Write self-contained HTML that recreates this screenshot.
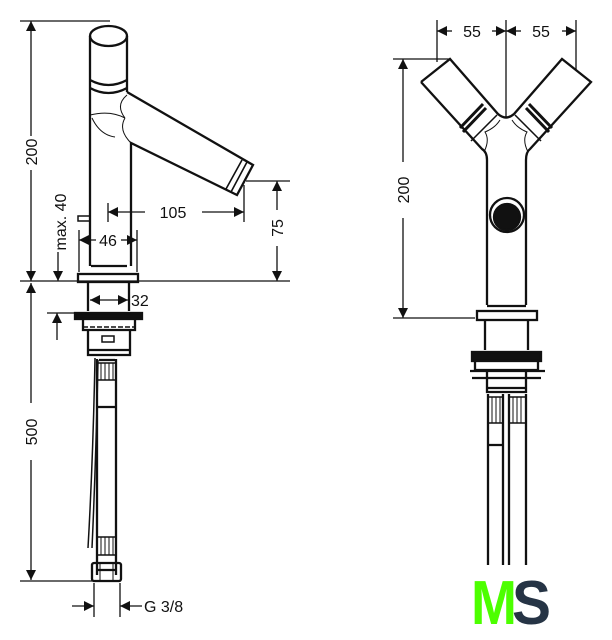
<!DOCTYPE html>
<html><head><meta charset="utf-8"><style>
html,body{margin:0;padding:0;background:#fff;}
svg{display:block;}
text{font-family:"Liberation Sans",sans-serif;font-size:16px;fill:#111;}
</style></head><body>
<svg width="612" height="640" viewBox="0 0 612 640" xmlns="http://www.w3.org/2000/svg">
<defs>
<marker id="a" viewBox="0 0 10 10" refX="10" refY="5" markerWidth="11" markerHeight="10" markerUnits="userSpaceOnUse" orient="auto-start-reverse"><path d="M0,0L10,5L0,10z" fill="#111"/></marker>
</defs>
<g stroke="#111" fill="none" stroke-width="1.3">
<line x1="20" y1="21" x2="110" y2="21"/>
<line x1="20" y1="281" x2="290" y2="281"/>
<line x1="31" y1="21" x2="31" y2="136" marker-start="url(#a)"/>
<line x1="31" y1="170" x2="31" y2="281" marker-end="url(#a)"/>
<line x1="246" y1="181" x2="290" y2="181"/>
<line x1="277" y1="181" x2="277" y2="210" marker-start="url(#a)"/>
<line x1="277" y1="246" x2="277" y2="281" marker-end="url(#a)"/>
<line x1="108" y1="203" x2="108" y2="222"/>
<line x1="244" y1="185" x2="244" y2="222"/>
<line x1="108" y1="212" x2="145" y2="212" marker-start="url(#a)"/>
<line x1="202" y1="212" x2="244" y2="212" marker-end="url(#a)"/>
<line x1="58" y1="252" x2="58" y2="281" marker-end="url(#a)"/>
<line x1="79" y1="230" x2="79" y2="272"/>
<line x1="137" y1="230" x2="137" y2="272"/>
<line x1="79" y1="240" x2="96" y2="240" marker-start="url(#a)"/>
<line x1="121" y1="240" x2="137" y2="240" marker-end="url(#a)"/>
<line x1="90" y1="300" x2="128" y2="300" marker-start="url(#a)" marker-end="url(#a)"/>
<line x1="47" y1="313" x2="75" y2="313"/>
<line x1="57" y1="340" x2="57" y2="313" marker-end="url(#a)"/>
<line x1="31" y1="283" x2="31" y2="403" marker-start="url(#a)"/>
<line x1="31" y1="460" x2="31" y2="580" marker-end="url(#a)"/>
<line x1="20" y1="581" x2="92" y2="581"/>
<line x1="94" y1="583" x2="94" y2="617"/>
<line x1="120" y1="583" x2="120" y2="617"/>
<line x1="72" y1="606" x2="94" y2="606" marker-end="url(#a)"/>
<line x1="142" y1="606" x2="120" y2="606" marker-end="url(#a)"/>
</g>
<g stroke="#111" fill="none" stroke-width="2.3">
<ellipse cx="108.5" cy="36" rx="18.5" ry="10"/>
<path d="M90,36V266M127,36V92"/>
<path d="M90,80Q108.5,90 127,80M90,88Q108.5,98 127,88"/>
<path d="M127,92L253,165L237,195L131,143V266"/>
<path d="M242,160L226,189M247,162L231,192" stroke-width="1.6"/>
<path d="M90,115Q110,110 125,118M125,118Q118,130 131,143M127,95Q115,105 125,118M92,118Q100,135 115,137" stroke-width="1"/>
<rect x="78" y="216" width="12" height="5" stroke-width="1.5"/>
<path d="M91,266H127"/>
<rect x="78" y="274" width="60" height="8"/>
<path d="M88,282V311M129,282V311"/>
<rect x="75" y="313" width="67" height="6" fill="#111"/>
<path d="M83,319V330H135V319M88,330V355H130V330M88,350H130"/>
<path d="M83,327H135" stroke-dasharray="5,2" stroke-width="1.5"/>
<rect x="102" y="336" width="12" height="6" stroke-width="1.5"/>
<path d="M97,359V575M116,359V575M99,360H115M97,407H116M97,570H116"/>
<path d="M97,363H116V380H97ZM97,537H116V555H97Z" stroke-width="1.5"/>
<path d="M101,363V380M105,363V380M109,363V380M113,363V380M101,537V555M105,537V555M109,537V555M113,537V555" stroke-width="1"/>
<path d="M95,358Q93,460 88,548M98,360Q96,460 92,548" stroke-width="1.5"/>
<rect x="92" y="563" width="29" height="18" rx="2"/>
<path d="M100,563V581M113,563V581" stroke-width="1"/>
</g>
<text transform="translate(37,152) rotate(-90)" text-anchor="middle">200</text>
<text transform="translate(283,228) rotate(-90)" text-anchor="middle">75</text>
<text transform="translate(66,222) rotate(-90)" text-anchor="middle">max. 40</text>
<text transform="translate(37,432) rotate(-90)" text-anchor="middle">500</text>
<text x="173" y="218" text-anchor="middle">105</text>
<text x="108" y="246" text-anchor="middle">46</text>
<text x="131" y="306">32</text>
<text x="144" y="612">G 3/8</text>
<g stroke="#111" fill="none" stroke-width="1.3">
<line x1="437" y1="20" x2="437" y2="62"/>
<line x1="506" y1="20" x2="506" y2="118"/>
<line x1="576" y1="20" x2="576" y2="70"/>
<line x1="437" y1="31" x2="452" y2="31" marker-start="url(#a)"/>
<line x1="492" y1="31" x2="506" y2="31" marker-end="url(#a)"/>
<line x1="506" y1="31" x2="521" y2="31" marker-start="url(#a)"/>
<line x1="562" y1="31" x2="576" y2="31" marker-end="url(#a)"/>
<line x1="393" y1="59" x2="450" y2="59"/>
<line x1="393" y1="318" x2="475" y2="318"/>
<line x1="403" y1="59" x2="403" y2="162" marker-start="url(#a)"/>
<line x1="403" y1="218" x2="403" y2="318" marker-end="url(#a)"/>
</g>
<text x="472" y="37" text-anchor="middle">55</text>
<text x="541" y="37" text-anchor="middle">55</text>
<text transform="translate(409,190) rotate(-90)" text-anchor="middle">200</text>
<g stroke="#111" fill="none" stroke-width="2.3">
<path d="M421,82L450,59L498,114Q506,121 514,114L562,59L591,82L530,149Q526,152 526,160V305M421,82L482,149Q487,152 487,160V305"/>
<path d="M460,128L483,104M463,132L486,108M552,128L529,104M549,132L526,108" stroke-width="3"/>
<path d="M471,141L497,115M541,141L515,115" stroke-width="1.5"/>
<path d="M484,152Q490,140 485,132Q495,128 500,120M528,152Q522,140 527,132Q517,128 512,120" stroke-width="1"/>
<circle cx="507" cy="215" r="17"/>
<circle cx="507" cy="217" r="13" fill="#111"/>
<rect x="477" y="311" width="60" height="9"/>
<path d="M487,306H526M485,320V350M528,320V350"/>
<rect x="472" y="352" width="69" height="9" fill="#111"/>
<path d="M475,361V370H538V361M470,371H545M472,378H541M487,370V392H526V370M487,388H526"/>
<path d="M488,394V565M503,394V565M509,394V565M526,394V565M487,445H504"/>
<path d="M488,397H503V423H488ZM509,397H526V423H509Z" stroke-width="1.5"/>
<path d="M492,397V423M496,397V423M500,397V423M513,397V423M517,397V423M521,397V423" stroke-width="1"/>
</g>
<text x="471" y="624" textLength="46" lengthAdjust="spacingAndGlyphs" style="font-family:'Liberation Sans',sans-serif;font-weight:bold;font-size:62px;fill:#4cff00">M</text>
<text x="512" y="624" textLength="39" lengthAdjust="spacingAndGlyphs" style="font-family:'Liberation Sans',sans-serif;font-weight:bold;font-size:62px;fill:#263445">S</text>
</svg>
</body></html>
